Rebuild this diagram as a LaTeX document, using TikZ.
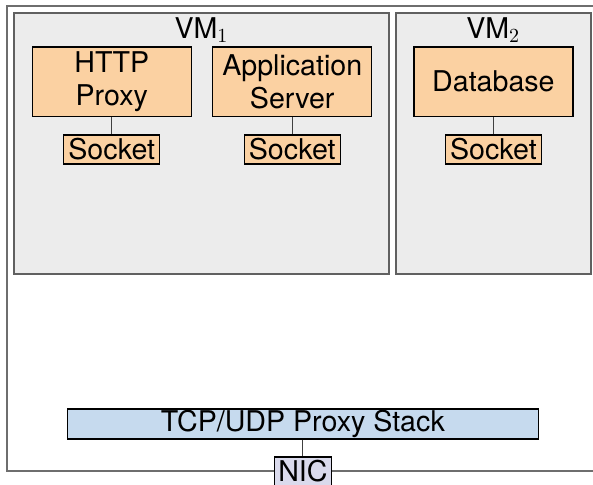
\documentclass[tikz,border=0pt]{standalone}
\usepackage{fontspec}
\setmainfont{TeX Gyre Heros}
\usepackage{tikz}
\usetikzlibrary{positioning}

\definecolor{procfill}{RGB}{251,209,162}
\definecolor{stackfill}{RGB}{198,218,238}
\definecolor{nicfill}{RGB}{218,218,236}
\definecolor{vmfill}{RGB}{236,236,236}
\definecolor{vmline}{RGB}{96,96,96}
\definecolor{hostline}{RGB}{110,110,110}

\begin{document}
\begin{tikzpicture}[
    x=0.5pt, y=-0.5pt,
    node distance=33.9pt,
    on grid,
    font=\fontsize{14.3}{16.5}\selectfont,
    vm/.style={draw=vmline, line width=1pt, fill=vmfill, minimum height=130.5pt, inner sep=0pt},
    proc/.style={draw, line width=0.6pt, fill=procfill, minimum width=79.5pt, minimum height=34.75pt, align=center, inner sep=0pt},
    sock/.style={draw, line width=0.6pt, fill=procfill, minimum width=48pt, minimum height=14.5pt, inner sep=0pt},
    stackbox/.style={draw, line width=0.6pt, fill=stackfill, minimum width=235.5pt, minimum height=15pt, inner sep=0pt},
    nicbox/.style={draw, line width=0.6pt, fill=nicfill, minimum width=28.5pt, minimum height=14.5pt, inner sep=0pt},
    link/.style={draw=black!75, line width=0.5pt}
]
    \useasboundingbox (0,0) rectangle (593,485);

    % host
    \draw[draw=hostline, line width=0.75pt] (7,6) rectangle (600,471);

    % virtual machines
    \node[vm, minimum width=187.5pt] (vm1) at (201.5,143.5) {};
    \node[vm, minimum width=97.75pt] (vm2) at (493.25,143.5) {};
    \node[inner sep=0pt] (vm1lbl) at (201.5,30) {VM$_1$};
    \node[inner sep=0pt] (vm2lbl) at (493.25,30) {VM$_2$};

    % processes
    \node[proc] (http) at (111.75,81.75) {HTTP\\Proxy};
    \node[proc] (app) [right=90.25pt of http] {Application\\Server};
    \node[proc] (db) at (493.4,81.75) {Database};

    \node[sock] (httpsock) [below=of http] {Socket};
    \node[sock] (appsock) [below=of app] {Socket};
    \node[sock] (dbsock) [below=of db] {Socket};

    % network
    \node[stackbox] (stack) at (302.9,424) {TCP/UDP Proxy Stack};
    \node[nicbox] (nic) [below=23.75pt of stack] {NIC};

    \path[link]
        (http) edge (httpsock)
        (app) edge (appsock)
        (db) edge (dbsock)
        (stack) edge (nic);
\end{tikzpicture}
\end{document}
